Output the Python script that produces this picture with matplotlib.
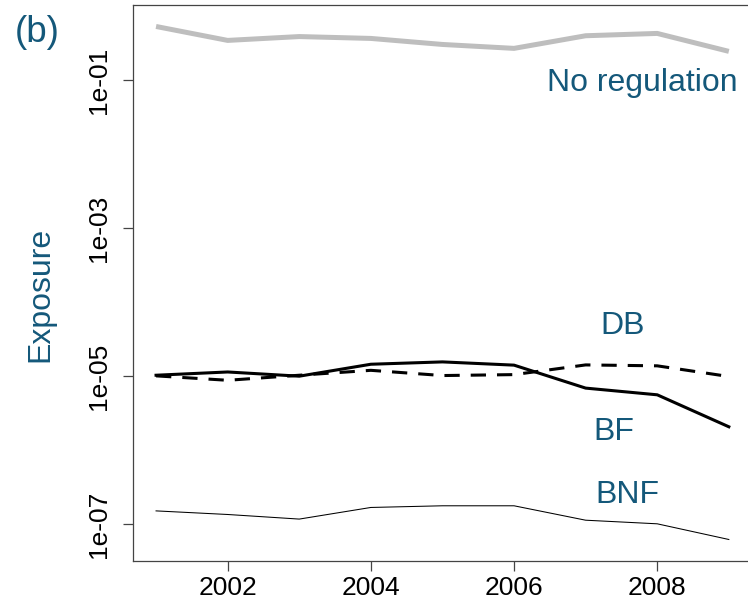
"""Exposure by year under different regulation schemes, panel (b)."""
import matplotlib
matplotlib.use("Agg")
import matplotlib.pyplot as plt
import matplotlib.ticker as mticker

plt.rcParams["font.family"] = ["Liberation Sans", "DejaVu Sans"]

# ── colours ────────────────────────────────────────────────────────────────
C_TEXT  = "#14587A"
C_GRAY  = "#BEBEBE"
C_INK   = "#000000"
C_AXIS  = "#444444"

# ── data ───────────────────────────────────────────────────────────────────
years = [2001, 2002, 2003, 2004, 2005, 2006, 2007, 2008, 2009]
no_regulation = [0.534, 0.346, 0.39, 0.368, 0.305, 0.27, 0.40, 0.43, 0.246]
bf  = [1.03e-5, 1.14e-5, 1.0e-5, 1.45e-5, 1.56e-5, 1.41e-5, 6.9e-6, 5.6e-6, 2.07e-6]
db  = [1.01e-5, 8.8e-6, 1.03e-5, 1.2e-5, 1.02e-5, 1.05e-5, 1.42e-5, 1.38e-5, 9.9e-6]
bnf = [1.51e-7, 1.35e-7, 1.17e-7, 1.68e-7, 1.77e-7, 1.77e-7, 1.13e-7, 1.01e-7, 6.2e-8]

x_ticks = [2002, 2004, 2006, 2008]
y_ticks = [1e-1, 1e-3, 1e-5, 1e-7]
y_tick_labels = ["1e-01", "1e-03", "1e-05", "1e-07"]

# series labels: (text, year, exposure)
labels = [
    ("No regulation", 2007.79, 9.1e-2),
    ("DB",            2007.51, 4.84e-5),
    ("BF",            2007.40, 1.75e-6),
    ("BNF",           2007.58, 2.48e-7),
]


def main():
    fig = plt.figure(figsize=(7.48, 6.04), dpi=100, facecolor="white")
    ax = fig.add_axes([0.178, 0.071, 0.827, 0.921])

    ax.plot(years, no_regulation, color=C_GRAY, lw=3.6, solid_capstyle="butt")
    ax.plot(years, bf, color=C_INK, lw=2.2)
    ax.plot(years, db, color=C_INK, lw=2.2, linestyle=(0, (5, 3.6)))
    ax.plot(years, bnf, color=C_INK, lw=0.75)

    ax.set_yscale("log")
    ax.set_xlim(2000.68, 2009.32)
    ax.set_ylim(10 ** -7.5, 10 ** 0.02)

    ax.set_xticks(x_ticks)
    ax.set_xticklabels([str(y) for y in x_ticks])
    ax.set_yticks(y_ticks)
    ax.set_yticklabels(y_tick_labels, rotation=90, va="center")
    ax.yaxis.set_minor_locator(mticker.NullLocator())

    ax.tick_params(axis="both", length=7, width=0.9, color=C_AXIS,
                   labelsize=19, labelcolor=C_INK)
    ax.tick_params(axis="x", pad=4)
    ax.tick_params(axis="y", pad=9)
    for sp in ax.spines.values():
        sp.set_color(C_AXIS)
        sp.set_linewidth(0.9)

    # ── line labels ────────────────────────────────────────────────────────
    for txt, x, y in labels:
        ax.text(x, y, txt, color=C_TEXT, fontsize=23,
                ha="center", va="center")

    fig.text(37 / 748, 1 - 32 / 604, "(b)", color=C_TEXT, fontsize=26.5,
             ha="center", va="center")
    fig.text(40 / 748, 1 - 294 / 604, "Exposure", color=C_TEXT, fontsize=23,
             ha="center", va="center", rotation=90)

    fig.savefig("out.png", dpi=100)
    plt.close(fig)


if __name__ == "__main__":
    main()
